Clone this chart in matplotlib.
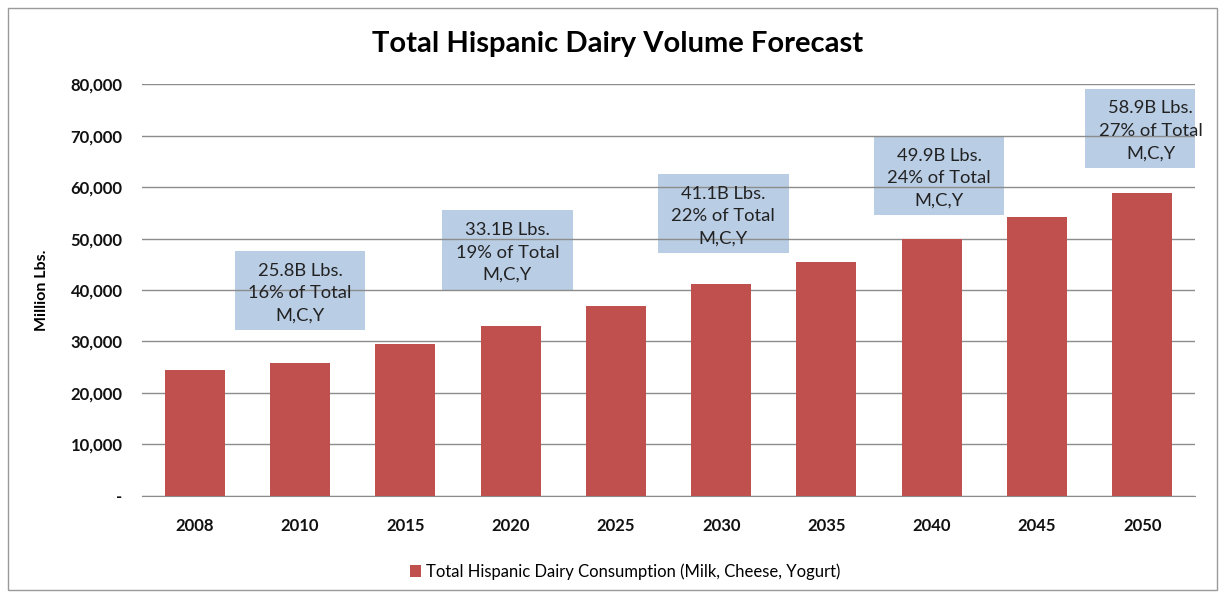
import matplotlib.pyplot as plt
from matplotlib.patches import Rectangle
from matplotlib.ticker import FuncFormatter

plt.rcParams['font.family'] = ['Lato', 'DejaVu Sans']

# data
years = ['2008', '2010', '2015', '2020', '2025', '2030', '2035', '2040', '2045', '2050']
volume = [24500, 25800, 29500, 33100, 37000, 41100, 45400, 49900, 54300, 58900]

# callout boxes: centre (category units, million lbs), text
note_x = [1.0, 2.97, 5.02, 7.07, 9.08]
note_y = [39900, 47800, 54900, 62300, 71500]
note_text = ['25.8B Lbs.\n16% of Total\nM,C,Y',
             '33.1B Lbs.\n19% of Total\nM,C,Y',
             '41.1B Lbs.\n22% of Total\nM,C,Y',
             '49.9B Lbs.\n24% of Total\nM,C,Y',
             '58.9B Lbs.\n27% of Total\nM,C,Y']

fig = plt.figure(figsize=(12.21, 5.92), dpi=100)
ax = fig.add_axes([0.1163, 0.1627, 0.8624, 0.6946])

# outer chart border
fig.patches.append(Rectangle((8 / 1221, 2 / 592), 1209 / 1221, 582 / 592,
                             transform=fig.transFigure, fill=False,
                             edgecolor='#9a9a9a', linewidth=1))

x = range(len(years))
ax.bar(x, volume, width=0.57, color='#C0504D', zorder=3,
       label='Total Hispanic Dairy Consumption (Milk, Cheese, Yogurt)')

for xc, yc, t in zip(note_x, note_y, note_text):
    ax.add_patch(Rectangle((xc - 0.62, yc - 7700), 1.24, 15400,
                           facecolor='#B9CDE5', edgecolor='none', zorder=1))
    ax.text(xc, yc - 500, t, ha='center', va='center', fontsize=13.2,
            color='#222222', linespacing=1.5, zorder=4)

ax.set_xlim(-0.5, len(years) - 0.5)
ax.set_ylim(0, 80000)
ax.set_yticks(range(0, 80001, 10000))
ax.yaxis.set_major_formatter(FuncFormatter(lambda v, p: '-' if v == 0 else f'{int(v):,}'))
ax.set_xticks(list(x))
ax.set_xticklabels(years)
ax.grid(axis='y', color='#8c8c8c', linewidth=1, zorder=2)
ax.set_axisbelow(False)
for s in ['top', 'right', 'left']:
    ax.spines[s].set_visible(False)
ax.spines['bottom'].set_color('#8c8c8c')
ax.spines['bottom'].set_zorder(2)
ax.tick_params(length=0, labelsize=12, colors='#111111')
ax.tick_params(axis='x', pad=16)
ax.tick_params(axis='y', pad=14)
for lab in ax.get_xticklabels() + ax.get_yticklabels():
    lab.set_fontweight('bold')

ax.set_ylabel('Million Lbs.', fontsize=11.5, fontweight='bold')
ax.yaxis.set_label_coords(-0.088, 0.5)

fig.text(0.506, 0.925, 'Total Hispanic Dairy Volume Forecast', ha='center',
         va='center', fontsize=21, fontweight='bold')

ax.legend(loc='center', bbox_to_anchor=(0.512, 0.035), bbox_transform=fig.transFigure,
          frameon=False, fontsize=12, handlelength=0.7, handleheight=0.7,
          handletextpad=0.3)

fig.savefig('out.png', dpi=100)
